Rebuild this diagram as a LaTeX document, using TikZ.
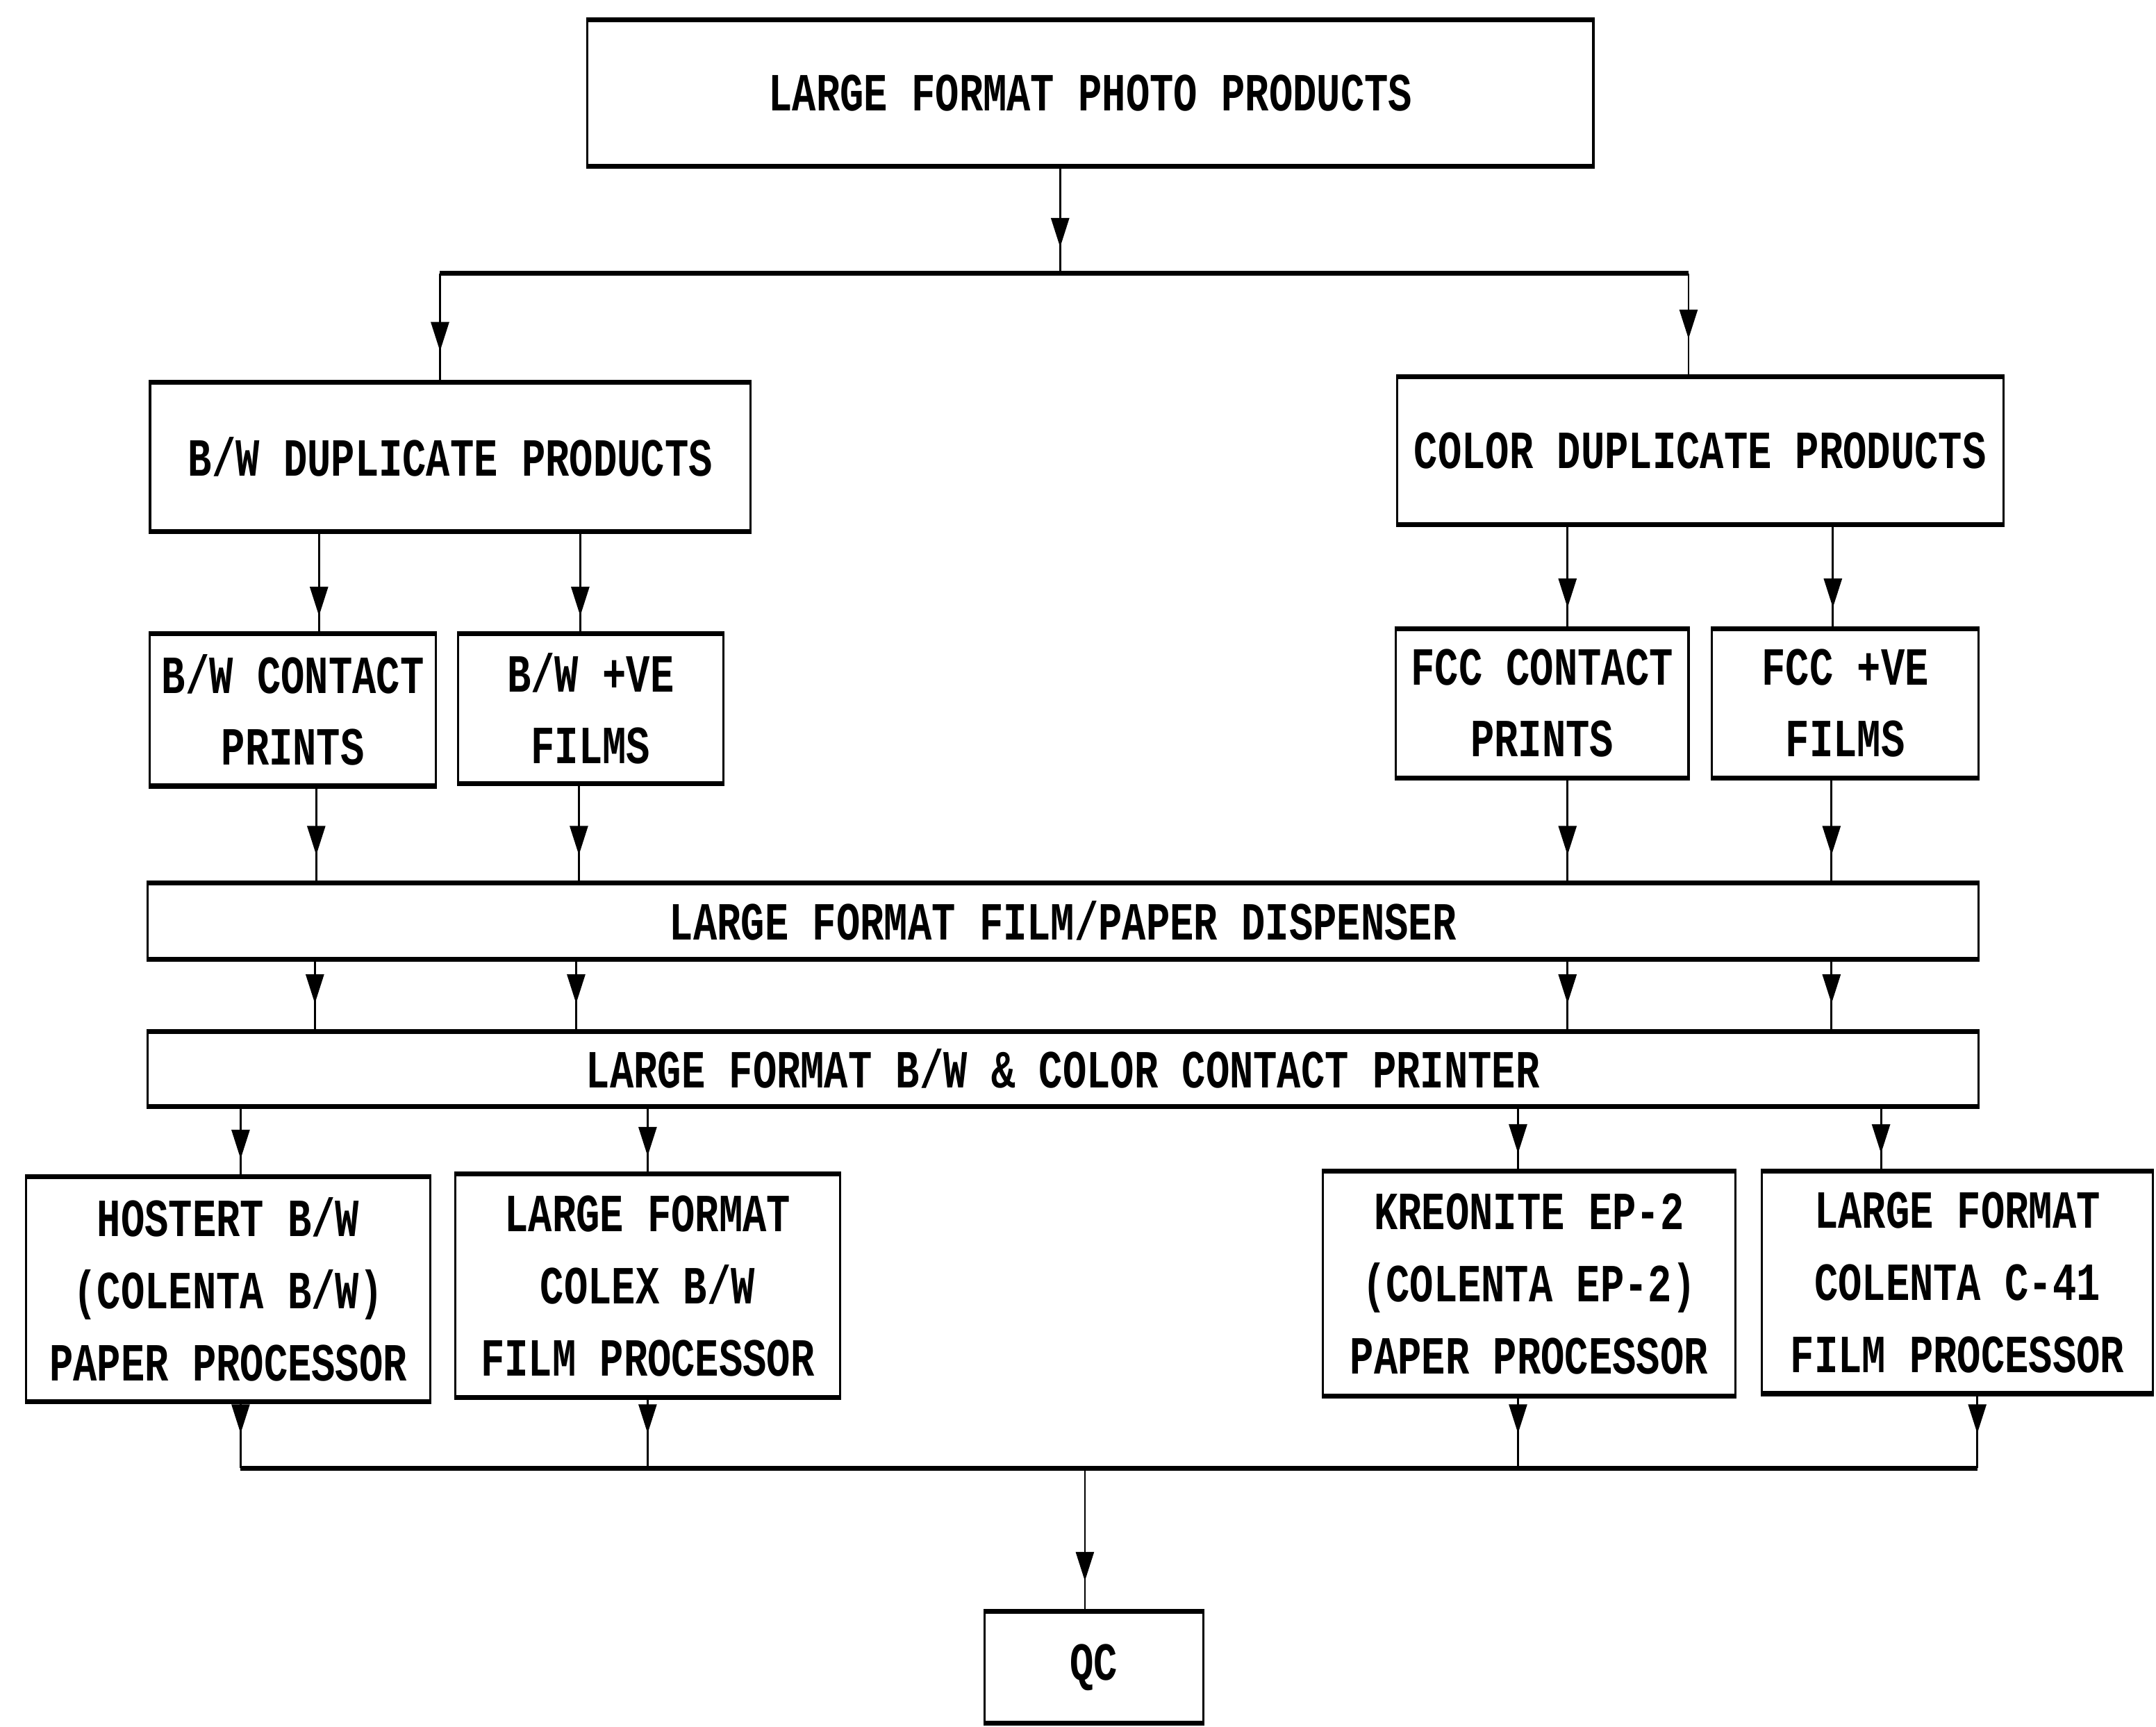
\documentclass[tikz,border=0pt]{standalone}
\usepackage{fontspec}
\newfontfamily\dmfont[FakeStretch=0.74]{Liberation Mono}
\usetikzlibrary{arrows.meta,decorations.markings}
\begin{document}
\begin{tikzpicture}[x=0.0198cm,y=-0.0198cm,
  box/.style={draw, line width=0.9pt, inner sep=0pt, align=center,
    font=\dmfont\bfseries\fontsize{22}{29.5}\selectfont},
  arr/.style={line width=0.8pt, postaction={decorate},
    decoration={markings, mark=at position -#1 with {\arrow{Triangle[length=0.42cm,width=0.26cm]}}}},
  arr/.default=0.3cm,
  bar/.style={line width=2pt}]
\useasboundingbox[fill=white] (0,0) rectangle (1568,1256);

\node[box, minimum width=14.49cm, minimum height=2.08cm] (top) at (793,67.5) {LARGE FORMAT PHOTO PRODUCTS};
\node[box, minimum width=8.65cm, minimum height=2.12cm] (bwdup) at (327.5,332.5) {B/W DUPLICATE PRODUCTS};
\node[box, minimum width=8.73cm, minimum height=2.10cm] (coldup) at (1236.5,328) {COLOR DUPLICATE PRODUCTS};
\node[box, minimum width=4.12cm, minimum height=2.16cm] (bwcp) at (213,516.5) {B/W CONTACT\\PRINTS};
\node[box, minimum width=3.82cm, minimum height=2.12cm] (bwve) at (429.5,515.5) {B/W +VE\\FILMS};
\node[box, minimum width=4.22cm, minimum height=2.12cm] (fcccp) at (1121.5,511.5) {FCC CONTACT\\PRINTS};
\node[box, minimum width=3.84cm, minimum height=2.12cm] (fccve) at (1342,511.5) {FCC +VE\\FILMS};
\node[box, minimum width=26.37cm, minimum height=1.07cm] (disp) at (773,670) {LARGE FORMAT FILM/PAPER DISPENSER};
\node[box, minimum width=26.37cm, minimum height=1.05cm] (printer) at (773,777.5) {LARGE FORMAT B/W \& COLOR CONTACT PRINTER};
\node[box, minimum width=5.82cm, minimum height=3.21cm] (hostert) at (166,938) {HOSTERT B/W\\(COLENTA B/W)\\PAPER PROCESSOR};
\node[box, minimum width=5.54cm, minimum height=3.19cm] (colex) at (471,935.5) {LARGE FORMAT\\COLEX B/W\\FILM PROCESSOR};
\node[box, minimum width=5.94cm, minimum height=3.21cm] (kreonite) at (1112,934) {KREONITE EP-2\\(COLENTA EP-2)\\PAPER PROCESSOR};
\node[box, minimum width=5.64cm, minimum height=3.17cm] (colenta) at (1423.5,933) {LARGE FORMAT\\COLENTA C-41\\FILM PROCESSOR};
\node[box, minimum width=3.15cm, minimum height=1.58cm] (qc) at (795.5,1213) {QC};

\foreach \n in {top,bwdup,coldup,bwcp,bwve,fcccp,fccve,disp,printer,hostert,colex,kreonite,colenta,qc}
  \draw[line width=2pt] (\n.north west) -- (\n.north east) (\n.south west) -- (\n.south east);

% top split
\coordinate (jt) at (771,199);
\coordinate (jl) at (320,199);
\coordinate (jr) at (1228,199);
\draw[arr=0.38cm] (top.south -| jt) -- (jt);
\draw[bar] (jl) -- (jr);
\draw[arr=0.45cm] (jl) -- (bwdup.north -| jl);
\draw[arr=0.55cm] (jr) -- (coldup.north -| jr);

% duplicate products to items
\draw[arr=0.26cm] (bwdup.south -| 232,0) -- (bwcp.north -| 232,0);
\draw[arr=0.26cm] (bwdup.south -| 422,0) -- (bwve.north -| 422,0);
\draw[arr=0.3cm] (coldup.south -| 1140,0) -- (fcccp.north -| 1140,0);
\draw[arr=0.3cm] (coldup.south -| 1333,0) -- (fccve.north -| 1333,0);

% items to dispenser
\draw[arr=0.4cm] (bwcp.south -| 230,0) -- (disp.north -| 230,0);
\draw[arr=0.4cm] (bwve.south -| 421,0) -- (disp.north -| 421,0);
\draw[arr=0.4cm] (fcccp.south -| 1140,0) -- (disp.north -| 1140,0);
\draw[arr=0.4cm] (fccve.south -| 1332,0) -- (disp.north -| 1332,0);

% dispenser to printer
\draw[arr=0.4cm] (disp.south -| 229,0) -- (printer.north -| 229,0);
\draw[arr=0.4cm] (disp.south -| 419,0) -- (printer.north -| 419,0);
\draw[arr=0.4cm] (disp.south -| 1140,0) -- (printer.north -| 1140,0);
\draw[arr=0.4cm] (disp.south -| 1332,0) -- (printer.north -| 1332,0);

% printer to processors
\draw[arr=0.26cm] (printer.south -| 175,0) -- (hostert.north -| 175,0);
\draw[arr=0.26cm] (printer.south -| 471,0) -- (colex.north -| 471,0);
\draw[arr=0.26cm] (printer.south -| 1104,0) -- (kreonite.north -| 1104,0);
\draw[arr=0.26cm] (printer.south -| 1368,0) -- (colenta.north -| 1368,0);

% processors to QC
\coordinate (bl) at (175,1068);
\coordinate (br) at (1438,1068);
\coordinate (bq) at (789,1068);
\draw[arr=0.5cm] (hostert.south -| bl) -- (bl);
\draw[arr=0.5cm] (colex.south -| 471,0) -- (471,1068);
\draw[arr=0.5cm] (kreonite.south -| 1104,0) -- (1104,1068);
\draw[arr=0.5cm] (colenta.south -| br) -- (br);
\draw[bar] (bl) -- (br);
\draw[arr=0.44cm] (bq) -- (qc.north -| bq);
\end{tikzpicture}
\end{document}
